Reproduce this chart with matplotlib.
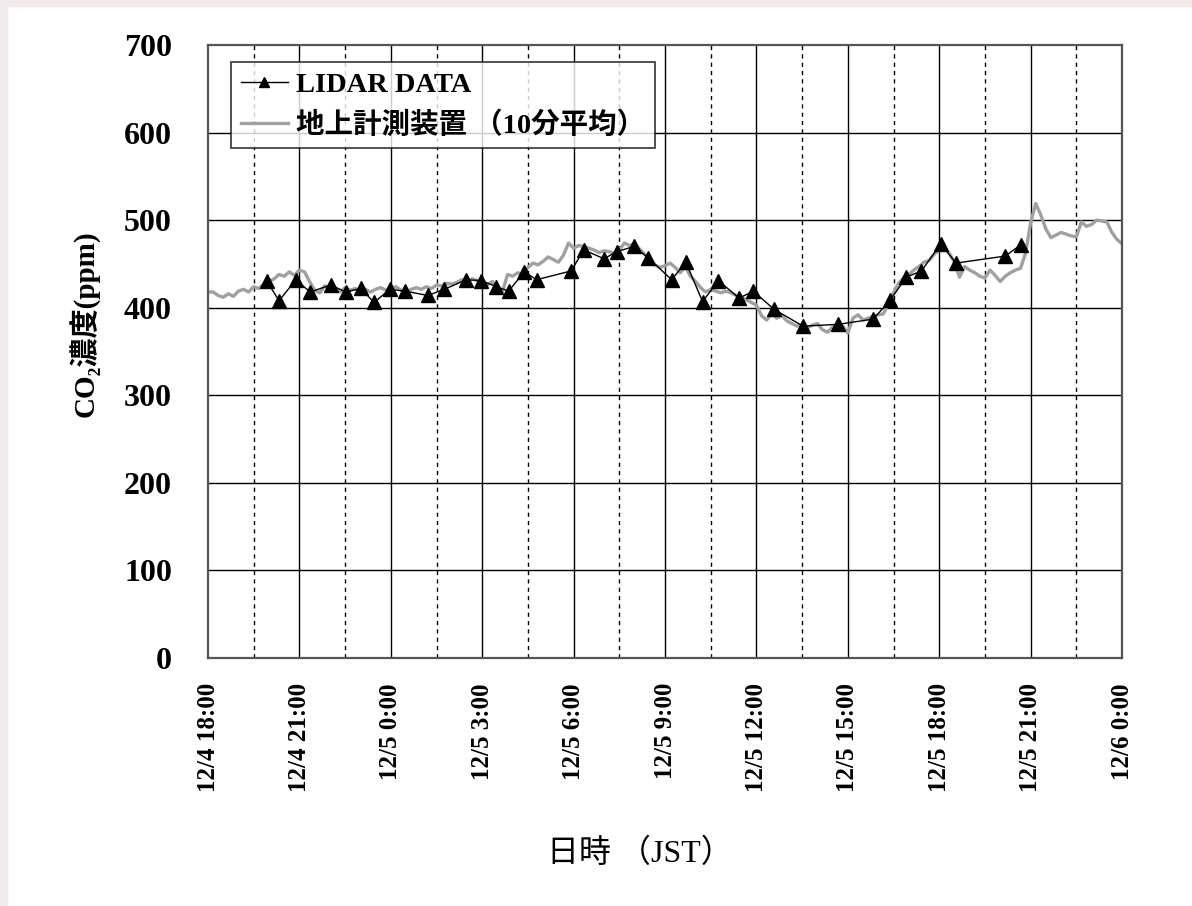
import numpy as np
import pandas as pd
import matplotlib
matplotlib.use("Agg")
import matplotlib.pyplot as plt
import matplotlib.dates as mdates
from matplotlib.ticker import FuncFormatter, MultipleLocator

plt.rcParams['font.family'] = ['Liberation Serif', 'Noto Sans CJK JP', 'DejaVu Serif']

# LIDAR retrievals (JST) and CO2 in ppm
lidar_time = ["12/4 19:56", "12/4 20:20", "12/4 20:53", "12/4 21:21", "12/4 22:02",
              "12/4 22:31", "12/4 23:01", "12/4 23:27", "12/4 23:58", "12/5 0:28",
              "12/5 1:13", "12/5 1:45", "12/5 2:29", "12/5 2:58", "12/5 3:28",
              "12/5 3:52", "12/5 4:23", "12/5 4:47", "12/5 5:55", "12/5 6:20",
              "12/5 7:00", "12/5 7:25", "12/5 7:59", "12/5 8:27", "12/5 9:13",
              "12/5 9:41", "12/5 10:14", "12/5 10:45", "12/5 11:26", "12/5 11:54",
              "12/5 12:35", "12/5 13:32", "12/5 14:40", "12/5 15:50", "12/5 16:24",
              "12/5 16:55", "12/5 17:25", "12/5 18:03", "12/5 18:33", "12/5 20:10",
              "12/5 20:41"]
lidar_co2 = [430, 408, 432, 418, 426, 418, 422, 406, 421, 419,
             414, 421, 432, 431, 424, 419, 441, 432, 442, 466,
             456, 464, 470, 457, 432, 452, 407, 431, 411, 419,
             398, 379, 381, 387, 409, 435, 442, 473, 451, 459,
             472]

# ground station, 10-minute means from 12/4 18:00 to 12/6 0:00
ground_co2 = [418,
              418, 414, 412, 416, 413, 419,
              421, 418, 424, 422, 427, 430,
              433, 438, 436, 441, 437, 443,
              441, 430, 420, 417, 425, 423,
              421, 418, 423, 420, 422, 419,
              421, 418, 421, 423, 420, 422,
              424, 420, 418, 421, 423, 421,
              424, 422, 426, 425, 428, 427,
              429, 432, 430, 433, 431, 428,
              426, 430, 422, 419, 438, 436,
              440, 437, 446, 451, 449, 453,
              458, 455, 452, 460, 474, 468,
              471, 470, 468, 466, 463, 465,
              464, 462, 466, 474, 471, 473,
              467, 461, 455, 449, 446, 448,
              451, 446, 440, 447, 436, 430,
              423, 418, 421, 419, 417, 419,
              417, 414, 412, 409, 406, 403,
              391, 386, 393, 388, 391, 385,
              382, 379, 381, 377, 380, 382,
              375, 372, 378, 377, 379, 371,
              388, 392, 386, 388, 390, 392,
              393, 405, 417, 428, 434, 438,
              443, 447, 452, 454, 461, 466,
              468, 462, 452, 435, 447, 443,
              440, 436, 434, 443, 437, 430,
              436, 440, 443, 445, 462, 497,
              519, 506, 490, 480, 483, 486,
              484, 482, 481, 498, 493, 495,
              500, 499, 498, 486, 478, 473]

YEAR = 2003
t_lidar = pd.to_datetime([f"{YEAR}/{s}" for s in lidar_time], format="%Y/%m/%d %H:%M")
t_ground = pd.date_range(f"{YEAR}-12-04 18:00", periods=len(ground_co2), freq="10min")
t0 = pd.Timestamp(f"{YEAR}-12-04 18:00")
t1 = pd.Timestamp(f"{YEAR}-12-06 00:00")

fig = plt.figure(figsize=(11.92, 9.06), dpi=100)
fig.patch.set_facecolor('white')
# faint speckled page edge along top and left
fig.patches.append(plt.Rectangle((0, 0.9935), 1, 0.0065, transform=fig.transFigure,
                                 color='#f3eaea', zorder=0))
fig.patches.append(plt.Rectangle((0, 0), 0.0055, 1, transform=fig.transFigure,
                                 color='#f0eced', zorder=0))

ax = fig.add_axes([0.1745, 0.2737, 0.7668, 0.6766])

# grid: solid every 3 h, dotted on the half
for k in range(1, 10):
    ax.axvline(t0 + pd.Timedelta(hours=3 * k), color='black', lw=1.0, zorder=1)
for k in range(10):
    ax.axvline(t0 + pd.Timedelta(hours=3 * k + 1.5), color='black', lw=1.0,
               ls=(0, (3, 3)), zorder=1)
for v in range(100, 700, 100):
    ax.axhline(v, color='black', lw=1.0, zorder=1)

ax.plot(t_ground, ground_co2, color='#a0a0a0', lw=2.4, zorder=2,
        label='地上計測装置 （10分平均）')
ax.plot(t_lidar, lidar_co2, color='black', lw=1.0, marker='^', ms=10,
        zorder=3, label='LIDAR DATA')

ax.set_xlim(t0, t1)
ax.set_ylim(0, 700)
ax.yaxis.set_major_locator(MultipleLocator(100))
ax.xaxis.set_major_locator(mdates.HourLocator(byhour=range(0, 24, 3)))

def fmt_date(x, pos):
    d = mdates.num2date(x)
    return f"{d.month}/{d.day} {d.hour}:{d.minute:02d}"

ax.xaxis.set_major_formatter(FuncFormatter(fmt_date))
ax.tick_params(axis='x', length=0, pad=18, labelsize=18, labelrotation=90)
ax.tick_params(axis='y', length=0, pad=26, labelsize=23)
for lab in ax.get_xticklabels() + ax.get_yticklabels():
    lab.set_fontweight('bold')

for sp in ax.spines.values():
    sp.set_color('#555555')
    sp.set_linewidth(1.6)

ax.set_ylabel('CO₂濃度(ppm)', fontsize=21, fontweight='bold')
ax.yaxis.set_label_coords(-0.117, 0.545)
ax.set_xlabel('日時 （JST）', fontsize=23)
ax.xaxis.set_label_coords(0.473, -0.295)

handles, labels = ax.get_legend_handles_labels()
leg = ax.legend(handles[::-1], labels[::-1], loc='upper left',
                bbox_to_anchor=(0.025, 0.972), frameon=True, fancybox=False,
                edgecolor='black', handlelength=1.65, handletextpad=0.28,
                borderpad=0.35, labelspacing=0.45, borderaxespad=0.0,
                prop={'size': 20.5, 'weight': 'bold'})
leg.get_frame().set_linewidth(1.2)
for line in leg.get_lines():
    if line.get_marker() == '^':
        line.set_markersize(7)

fig.savefig('out.png', dpi=100)
